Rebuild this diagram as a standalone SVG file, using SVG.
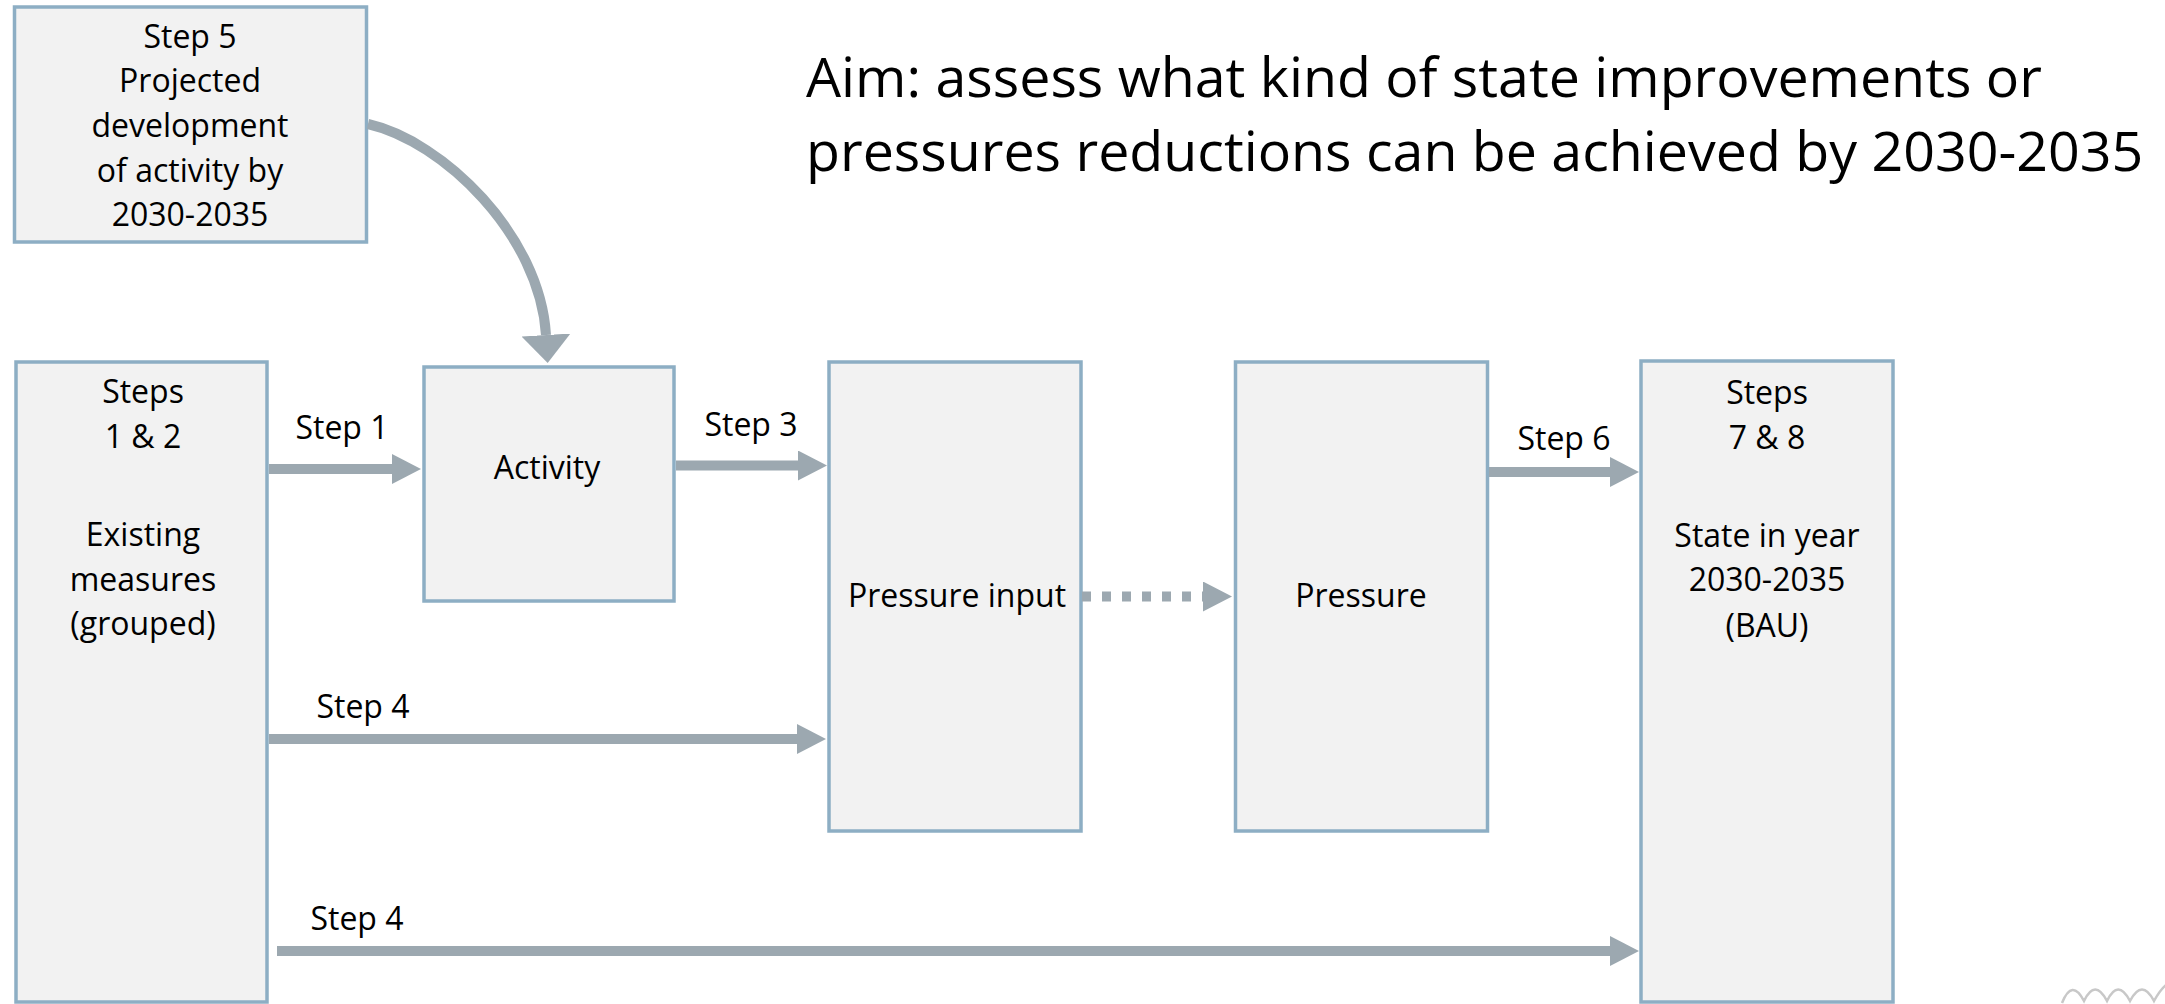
<svg xmlns="http://www.w3.org/2000/svg" width="2165" height="1004" viewBox="0 0 2165 1004">
  <style>
    .box { fill: #F2F2F2; stroke: #8DAEC4; stroke-width: 3.5; }
    .t { font-family: "Open Sans", "Noto Sans", "Liberation Sans", sans-serif; font-size: 32px; fill: #000; text-anchor: middle; }
    .title { font-family: "Open Sans", "Noto Sans", "Liberation Sans", sans-serif; font-size: 55.5px; fill: #000; }
    .arrow { fill: none; stroke: #9CA8B0; stroke-width: 10; }
    .dotted { stroke-dasharray: 9 11; }
  </style>
  <defs>
    <marker id="head" markerUnits="userSpaceOnUse" markerWidth="29" markerHeight="30" viewBox="0 0 29 30" refX="0" refY="15" orient="auto">
      <path d="M0,0 L29,15 L0,30 Z" fill="#9CA8B0"/>
    </marker>
    <marker id="headBig" markerUnits="userSpaceOnUse" markerWidth="28" markerHeight="49" viewBox="0 0 28 49" refX="0" refY="24.5" orient="auto">
      <path d="M0,0 L28,24.5 L0,49 Z" fill="#9CA8B0"/>
    </marker>
  </defs>

  <rect width="2165" height="1004" fill="#FFFFFF"/>

  <g id="title">
    <text class="title" x="806" y="97">Aim: assess what kind of state improvements or</text>
    <text class="title" x="806" y="171">pressures reductions can be achieved by 2030-2035</text>
  </g>

  <g id="node-step5">
    <rect class="box" x="14.5" y="7" width="352" height="235"/>
    <text class="t" x="190" y="48">Step 5</text>
    <text class="t" x="190" y="92">Projected</text>
    <text class="t" x="190" y="137">development</text>
    <text class="t" x="190" y="182">of activity by</text>
    <text class="t" x="190" y="226">2030-2035</text>
  </g>

  <g id="node-steps12">
    <rect class="box" x="16" y="362" width="251" height="640"/>
    <text class="t" x="143" y="403">Steps</text>
    <text class="t" x="143" y="448">1 &amp; 2</text>
    <text class="t" x="143" y="546">Existing</text>
    <text class="t" x="143" y="591">measures</text>
    <text class="t" x="143" y="635">(grouped)</text>
  </g>

  <g id="node-activity">
    <rect class="box" x="424" y="367" width="250" height="234"/>
    <text class="t" x="547" y="479">Activity</text>
  </g>

  <g id="node-pressure-input">
    <rect class="box" x="829" y="362" width="252" height="469"/>
    <text class="t" x="957" y="607">Pressure input</text>
  </g>

  <g id="node-pressure">
    <rect class="box" x="1235.5" y="362" width="252" height="469"/>
    <text class="t" x="1361" y="607">Pressure</text>
  </g>

  <g id="node-state">
    <rect class="box" x="1641" y="361" width="252" height="641"/>
    <text class="t" x="1767" y="404">Steps</text>
    <text class="t" x="1767" y="449">7 &amp; 8</text>
    <text class="t" x="1767" y="547">State in year</text>
    <text class="t" x="1767" y="591">2030-2035</text>
    <text class="t" x="1767" y="637">(BAU)</text>
  </g>

  <g id="connectors">
    <path class="arrow" d="M368,124 C443,141 540,235 546,335" marker-end="url(#headBig)"/>
    <line class="arrow" x1="269" y1="469" x2="392" y2="469" marker-end="url(#head)"/>
    <text class="t" x="342" y="439">Step 1</text>
    <line class="arrow" x1="676" y1="465.5" x2="798" y2="465.5" marker-end="url(#head)"/>
    <text class="t" x="751" y="436">Step 3</text>
    <line class="arrow" x1="269" y1="739" x2="797" y2="739" marker-end="url(#head)"/>
    <text class="t" x="363" y="718">Step 4</text>
    <line class="arrow dotted" x1="1082" y1="596.5" x2="1203" y2="596.5" marker-end="url(#head)"/>
    <line class="arrow" x1="1489" y1="472" x2="1610" y2="472" marker-end="url(#head)"/>
    <text class="t" x="1564" y="450">Step 6</text>
    <line class="arrow" x1="277" y1="951" x2="1610" y2="951" marker-end="url(#head)"/>
    <text class="t" x="357" y="930">Step 4</text>
  </g>

  <path d="M2062,1003 Q2072,978 2084,1001 Q2095,978 2107,1001 Q2118,978 2130,1001 Q2142,978 2154,1001 Q2160,990 2166,985" fill="none" stroke="#C8C8C8" stroke-width="2.5"/>
</svg>
